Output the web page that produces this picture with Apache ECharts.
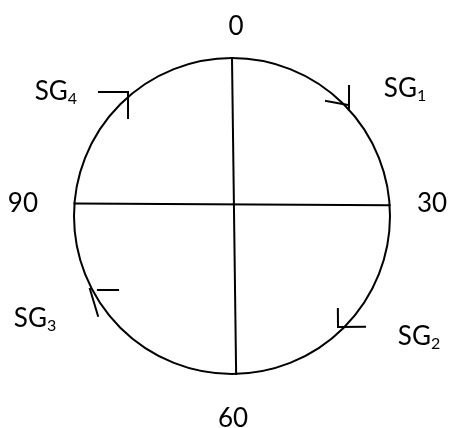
<!DOCTYPE html>
<html><head><meta charset="utf-8">
<script src="https://cdn.jsdelivr.net/npm/echarts@6/dist/echarts.min.js"></script>
<style>html,body{margin:0;padding:0;background:#fff}#c{width:449px;height:428px}</style>
</head><body><div id="c"></div>
<script>
// Angle scale (one full turn = 120 units), labels at the quarter points
const angleMin = 0, angleMax = 120, angleStep = 30;
// Cross lines inside the circle: [radius (1 = circle), angle]
const verticalLine = [[1, 0], [1, 59.5]];
const horizontalLine = [[1, 91.5], [1, 28.7]];
// Corner marks on the circle: [radius, angle]
const sg1Stem = [[1.107, 14.00], [0.999, 15.94]];
const sg1Tick = [[0.940, 13.09], [1.012, 15.33]];
const sg2Mark = [[0.892, 43.77], [0.971, 45.43], [1.096, 43.27]];
const sg3Bar = [[0.969, 80.37], [0.860, 79.0]];
const sg3Slash = [[1.011, 80.94], [1.058, 77.77]];
const sg4Mark = [[1.151, 104.33], [1.024, 106.67], [0.904, 104.43]];
// Signal labels
const sgNames = ['SG', 'SG', 'SG', 'SG'];
const sgSubs = ['1', '2', '3', '4'];
const sgPos = [[1.351, 18.05], [1.417, 41.11], [1.413, 80.65], [1.356, 101.58]];

const FONT = 'Lato';
const NUM = 26;
const chart = echarts.init(document.getElementById('c'), null, {renderer: 'canvas'});

// Build segment items [r1, a1, r2, a2] from every polyline
const polylines = [verticalLine, horizontalLine, sg1Stem, sg1Tick, sg2Mark, sg3Bar, sg3Slash, sg4Mark];
const segData = [];
polylines.forEach(pl => {
  for (let i = 0; i < pl.length - 1; i++) segData.push([pl[i][0], pl[i][1], pl[i + 1][0], pl[i + 1][1]]);
});

chart.setOption({
  backgroundColor: '#fff',
  animation: false,
  polar: {center: [232, 216], radius: 158},
  angleAxis: {
    type: 'value', min: angleMin, max: angleMax, interval: angleStep,
    startAngle: 90, clockwise: true,
    axisLine: {lineStyle: {color: '#000', width: 2}},
    axisTick: {show: false}, splitLine: {show: false},
    axisLabel: {
      margin: 0, color: '#000', fontFamily: FONT, fontSize: NUM,
      formatter: v => '{l' + v + '|' + v + '}',
      rich: {
        l0: {fontFamily: FONT, fontSize: NUM, color: '#000', padding: [0, 0, 18, 8]},
        l30: {fontFamily: FONT, fontSize: NUM, color: '#000', padding: [0, 0, 24, 27]},
        l60: {fontFamily: FONT, fontSize: NUM, color: '#000', padding: [32, 0, 0, 2]},
        l90: {fontFamily: FONT, fontSize: NUM, color: '#000', padding: [0, 36, 24, 0]}
      }
    }
  },
  radiusAxis: {min: 0, max: 1, show: false, axisLine: {show: false}, axisLabel: {show: false}, splitLine: {show: false}, axisTick: {show: false}},
  series: [{
    type: 'custom', coordinateSystem: 'polar', silent: true, clip: false,
    data: segData,
    encode: {radius: [0, 2], angle: [1, 3]},
    renderItem: (params, api) => {
      const p1 = api.coord([api.value(0), api.value(1)]);
      const p2 = api.coord([api.value(2), api.value(3)]);
      return {type: 'line', shape: {x1: p1[0], y1: p1[1], x2: p2[0], y2: p2[1]},
        style: {stroke: '#000', lineWidth: 2, lineCap: 'square'}};
    }
  }, {
    type: 'scatter', coordinateSystem: 'polar', symbolSize: 0, silent: true, clip: false,
    itemStyle: {opacity: 1},
    data: sgPos,
    label: {
      show: true, position: 'inside', color: '#000', opacity: 1, offset: [0, -2],
      formatter: p => '{s|' + sgNames[p.dataIndex] + '}{n|' + sgSubs[p.dataIndex] + '}',
      rich: {
        s: {fontFamily: FONT, fontSize: NUM, color: '#000', lineHeight: 30},
        n: {fontFamily: FONT, fontSize: 16, color: '#000', lineHeight: 15, verticalAlign: 'bottom'}
      }
    }
  }]
});
</script></body></html>
